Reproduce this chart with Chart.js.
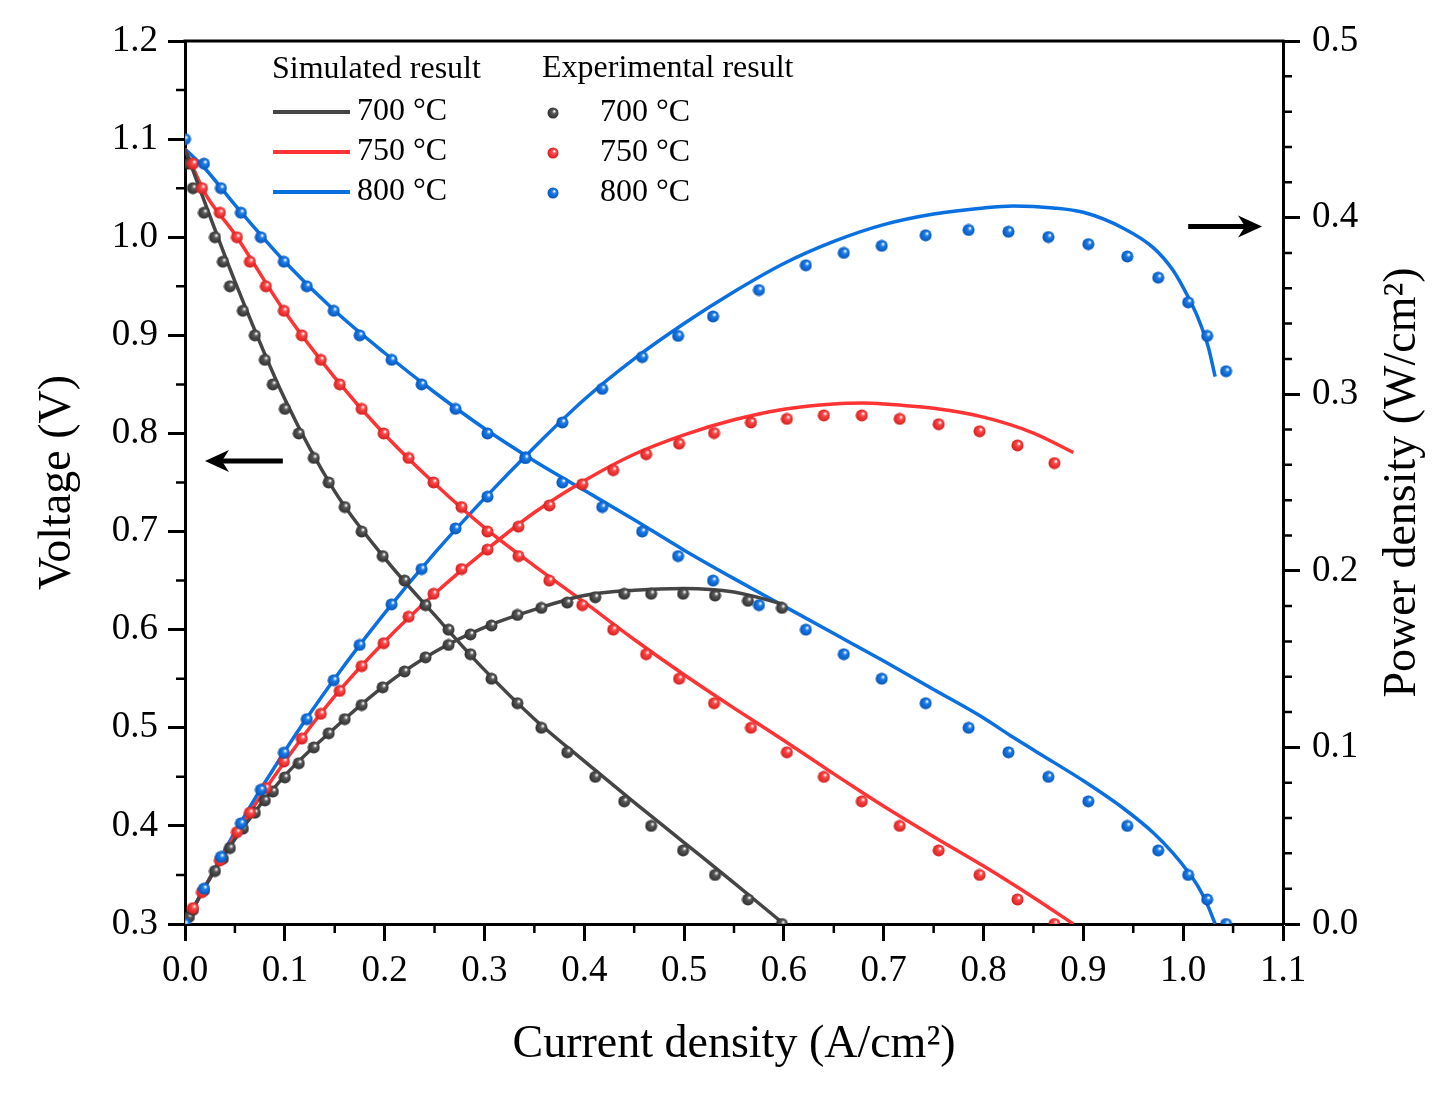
<!DOCTYPE html>
<html>
<head>
<meta charset="utf-8">
<script src="https://cdn.jsdelivr.net/npm/chart.js@4.4.1/dist/chart.umd.min.js"></script>
<style>
  body { margin: 0; background: #fff; }
  #wrap { width: 1455px; height: 1095px; }
</style>
</head>
<body>
<div id="wrap"><canvas id="chart" width="1455" height="1095"></canvas></div>
<script>
// experimental points
const expCurrent700 = [0.004,0.008,0.019,0.030,0.038,0.045,0.058,0.070,0.080,0.088,0.100,0.114,0.129,0.144,0.160,0.177,0.198,0.220,0.241,0.264,0.286,0.307,0.333,0.357,0.383,0.411,0.440,0.467,0.499,0.531,0.564,0.598]
const expVoltage700 = [1.075,1.05,1.025,1.0,0.975,0.95,0.925,0.9,0.875,0.85,0.825,0.8,0.775,0.75,0.725,0.7,0.675,0.65,0.625,0.6,0.575,0.55,0.525,0.5,0.475,0.45,0.425,0.4,0.375,0.35,0.325,0.3]
const expPower700 = [0.004,0.008,0.019,0.030,0.037,0.043,0.054,0.063,0.070,0.075,0.083,0.091,0.100,0.108,0.116,0.124,0.134,0.143,0.151,0.158,0.164,0.169,0.175,0.179,0.182,0.185,0.187,0.187,0.187,0.186,0.183,0.179]

const expCurrent750 = [0.008,0.017,0.035,0.052,0.065,0.081,0.099,0.117,0.136,0.155,0.177,0.199,0.224,0.249,0.277,0.303,0.334,0.365,0.398,0.429,0.462,0.495,0.530,0.567,0.603,0.640,0.678,0.716,0.755,0.796,0.834,0.871]
const expVoltage750 = [1.075,1.05,1.025,1.0,0.975,0.95,0.925,0.9,0.875,0.85,0.825,0.8,0.775,0.75,0.725,0.7,0.675,0.65,0.625,0.6,0.575,0.55,0.525,0.5,0.475,0.45,0.425,0.4,0.375,0.35,0.325,0.3]
const expPower750 = [0.009,0.018,0.036,0.052,0.063,0.077,0.092,0.105,0.119,0.132,0.146,0.159,0.174,0.187,0.201,0.212,0.225,0.237,0.249,0.257,0.266,0.272,0.278,0.284,0.286,0.288,0.288,0.286,0.283,0.279,0.271,0.261]

const expCurrent800 = [0,0.019,0.036,0.056,0.076,0.099,0.122,0.149,0.175,0.207,0.237,0.271,0.303,0.341,0.378,0.418,0.458,0.494,0.529,0.575,0.622,0.660,0.698,0.742,0.785,0.825,0.865,0.905,0.944,0.975,1.005,1.024,1.043]
const expVoltage800 = [1.1,1.075,1.05,1.025,1.0,0.975,0.95,0.925,0.9,0.875,0.85,0.825,0.8,0.775,0.75,0.725,0.7,0.675,0.65,0.625,0.6,0.575,0.55,0.525,0.5,0.475,0.45,0.425,0.4,0.375,0.35,0.325,0.3]
const expPower800 = [0,0.020,0.038,0.057,0.076,0.097,0.116,0.138,0.158,0.181,0.201,0.224,0.242,0.264,0.284,0.303,0.321,0.333,0.344,0.359,0.373,0.380,0.384,0.390,0.393,0.392,0.389,0.385,0.378,0.366,0.352,0.333,0.313]

// simulated curves
const simCurrent700 = [0,0.02,0.05,0.1,0.15,0.2,0.25,0.3,0.35,0.4,0.45,0.5,0.55,0.6]
const simVoltage700 = [1.09,1.035,0.955,0.835,0.741,0.673,0.615,0.559,0.509,0.466,0.424,0.383,0.342,0.30]
const simPower700 = [0,0.021,0.048,0.084,0.111,0.135,0.154,0.168,0.178,0.186,0.189,0.190,0.188,0.181]

const simCurrent750 = [0,0.02,0.05,0.1,0.15,0.2,0.25,0.3,0.35,0.4,0.45,0.5,0.55,0.6,0.65,0.68,0.7,0.75,0.8,0.85,0.89]
const simVoltage750 = [1.09,1.045,1.003,0.924,0.857,0.799,0.749,0.704,0.665,0.628,0.59,0.554,0.52,0.487,0.453,0.433,0.42,0.389,0.359,0.327,0.30]
const simPower750 = [0,0.021,0.050,0.092,0.129,0.160,0.187,0.211,0.233,0.251,0.266,0.277,0.2855,0.2915,0.2945,0.295,0.2945,0.292,0.287,0.278,0.267]

const simCurrent800 = [0,0.02,0.05,0.1,0.15,0.2,0.25,0.3,0.35,0.4,0.45,0.5,0.55,0.6,0.65,0.7,0.75,0.8,0.83,0.87,0.9,0.94,0.97,0.99,1.005,1.015,1.025,1.032]
const simVoltage800 = [1.09,1.07,1.033,0.975,0.925,0.882,0.842,0.805,0.772,0.742,0.712,0.681,0.652,0.624,0.596,0.568,0.539,0.51,0.49,0.465,0.446,0.418,0.393,0.372,0.353,0.338,0.318,0.30]
const simPower800 = [0,0.021,0.052,0.098,0.139,0.176,0.21,0.241,0.27,0.297,0.32,0.34,0.358,0.374,0.3865,0.396,0.402,0.4055,0.4066,0.4055,0.403,0.394,0.383,0.370,0.355,0.343,0.327,0.31]

const temps = ['700 °C', '750 °C', '800 °C']
const lineColors = ['#454545', '#ff3333', '#0a6fe0']
const ballColors = [['#5a5a5a', '#2a2a2a'], ['#ff4a4a', '#d01818'], ['#1f7fea', '#0050b5']]

const FONT = '"Liberation Serif", "Times New Roman", serif'

const pts = (xs, ys) => xs.map((x, i) => ({x: x, y: ys[i]}))

// little shaded sphere used as point marker
function ball(col, size) {
  const c = document.createElement('canvas')
  c.width = c.height = size
  const g = c.getContext('2d')
  const r = size / 2
  const grad = g.createRadialGradient(r * 1.25, r * 0.7, 0.4, r, r, r)
  grad.addColorStop(0, '#ffffff')
  grad.addColorStop(0.28, col[0])
  grad.addColorStop(1, col[1])
  g.fillStyle = grad
  g.beginPath()
  g.arc(r, r, r - 0.5, 0, Math.PI * 2)
  g.fill()
  return c
}
const balls = ballColors.map(c => ball(c, 13))
const legendBalls = ballColors.map(c => ball(c, 12))

function simLine(xs, ys, i, axis) {
  return {
    data: pts(xs, ys), yAxisID: axis, showLine: true,
    borderColor: lineColors[i], borderWidth: 3.5, pointRadius: 0,
    cubicInterpolationMode: 'monotone', order: 10 + i
  }
}
function expPoints(xs, ys, i, axis) {
  return {
    data: pts(xs, ys), yAxisID: axis, showLine: false,
    pointStyle: balls[i], pointRadius: 6.5, order: 2 - i
  }
}

// frame: top line, minor ticks, arrows, legend, right title
const decorations = {
  id: 'decorations',
  afterDraw(chart) {
    const {ctx, chartArea: a, scales} = chart
    const x = scales.x, y = scales.y, y1 = scales.y1
    ctx.save()
    ctx.strokeStyle = '#000'
    ctx.lineWidth = 3
    ctx.beginPath()
    ctx.moveTo(a.left - 1.5, a.top); ctx.lineTo(a.right + 1.5, a.top)
    ctx.stroke()

    ctx.lineWidth = 2.5
    ctx.beginPath()
    for (let k = 0; k < 11; k++) {
      const px = x.getPixelForValue(0.05 + k * 0.1)
      ctx.moveTo(px, a.bottom); ctx.lineTo(px, a.bottom + 9)
    }
    for (let k = 0; k < 9; k++) {
      const py = y.getPixelForValue(0.35 + k * 0.1)
      ctx.moveTo(a.left, py); ctx.lineTo(a.left - 9, py)
    }
    for (let k = 1; k < 25; k++) {
      if (k % 5 === 0) continue
      const py = y1.getPixelForValue(k * 0.02)
      ctx.moveTo(a.right, py); ctx.lineTo(a.right + 9, py)
    }
    ctx.stroke()

    // arrows pointing at each axis
    function arrow(x0, x1, py) {
      const dir = Math.sign(x1 - x0)
      ctx.fillStyle = '#000'
      ctx.lineWidth = 5
      ctx.beginPath()
      ctx.moveTo(x0, py); ctx.lineTo(x1 - dir * 14, py)
      ctx.stroke()
      ctx.beginPath()
      ctx.moveTo(x1, py)
      ctx.lineTo(x1 - dir * 24, py - 11)
      ctx.lineTo(x1 - dir * 17, py)
      ctx.lineTo(x1 - dir * 24, py + 11)
      ctx.closePath()
      ctx.fill()
    }
    arrow(x.getPixelForValue(0.098), x.getPixelForValue(0.02), y.getPixelForValue(0.772))
    arrow(x.getPixelForValue(1.005), x.getPixelForValue(1.079), y1.getPixelForValue(0.395))

    // legend
    ctx.fillStyle = '#000'
    ctx.font = '32px ' + FONT
    ctx.textBaseline = 'middle'
    ctx.textAlign = 'left'
    ctx.fillText('Simulated result', 272, 70)
    ctx.fillText('Experimental result', 542, 69)
    temps.forEach((t, i) => {
      const ly = 112 + i * 40
      ctx.strokeStyle = lineColors[i]
      ctx.lineWidth = 4
      ctx.beginPath(); ctx.moveTo(273, ly); ctx.lineTo(350, ly); ctx.stroke()
      ctx.fillText(t, 357, ly)
      ctx.drawImage(legendBalls[i], 547, ly - 5)
      ctx.fillText(t, 600, ly + 1)
    })

    // right axis title reads bottom to top
    ctx.save()
    ctx.translate(1403, (a.top + a.bottom) / 2)
    ctx.rotate(-Math.PI / 2)
    ctx.textAlign = 'center'
    ctx.font = '46px ' + FONT
    ctx.fillText('Power density (W/cm²)', 0, 0)
    ctx.restore()
    ctx.restore()
  }
}

const tickFont = {family: FONT, size: 37}
const titleFont = {family: FONT, size: 46}
const gridOpts = {drawOnChartArea: false, drawTicks: true, tickLength: 17, tickWidth: 3, tickColor: '#000'}
const borderOpts = {display: true, width: 3, color: '#000'}

new Chart(document.getElementById('chart'), {
  type: 'scatter',
  data: {
    datasets: [
      expPoints(expCurrent800, expVoltage800, 2, 'y'),
      expPoints(expCurrent800, expPower800, 2, 'y1'),
      expPoints(expCurrent750, expVoltage750, 1, 'y'),
      expPoints(expCurrent750, expPower750, 1, 'y1'),
      expPoints(expCurrent700, expVoltage700, 0, 'y'),
      expPoints(expCurrent700, expPower700, 0, 'y1'),
      simLine(simCurrent700, simVoltage700, 0, 'y'),
      simLine(simCurrent700, simPower700, 0, 'y1'),
      simLine(simCurrent750, simVoltage750, 1, 'y'),
      simLine(simCurrent750, simPower750, 1, 'y1'),
      simLine(simCurrent800, simVoltage800, 2, 'y'),
      simLine(simCurrent800, simPower800, 2, 'y1')
    ]
  },
  options: {
    responsive: false,
    animation: false,
    devicePixelRatio: 1,
    layout: {padding: {top: 41, left: 0, right: 0, bottom: 0}},
    plugins: {legend: {display: false}, tooltip: {enabled: false}},
    scales: {
      x: {
        type: 'linear', min: 0, max: 1.1,
        afterFit: s => { s.height = 171 },
        ticks: {stepSize: 0.1, autoSkip: false, maxRotation: 0, color: '#000', font: tickFont, padding: 8,
          callback: v => v.toFixed(1)},
        grid: gridOpts, border: borderOpts,
        title: {display: true, text: 'Current density (A/cm²)', color: '#000', font: titleFont, padding: {top: 0, bottom: 22}}
      },
      y: {
        type: 'linear', position: 'left', min: 0.3, max: 1.2,
        afterFit: s => { s.width = 185 },
        ticks: {stepSize: 0.1, autoSkip: false, color: '#000', font: tickFont, padding: 10,
          callback: v => v.toFixed(1)},
        grid: gridOpts, border: borderOpts,
        title: {display: true, text: 'Voltage (V)', color: '#000', font: titleFont, padding: {top: 30, bottom: 0}}
      },
      y1: {
        type: 'linear', position: 'right', min: 0, max: 0.5,
        afterFit: s => { s.width = 172 },
        ticks: {stepSize: 0.1, autoSkip: false, color: '#000', font: tickFont, padding: 12,
          callback: v => v.toFixed(1)},
        grid: gridOpts, border: borderOpts
      }
    }
  },
  plugins: [decorations]
})
</script>
</body>
</html>
